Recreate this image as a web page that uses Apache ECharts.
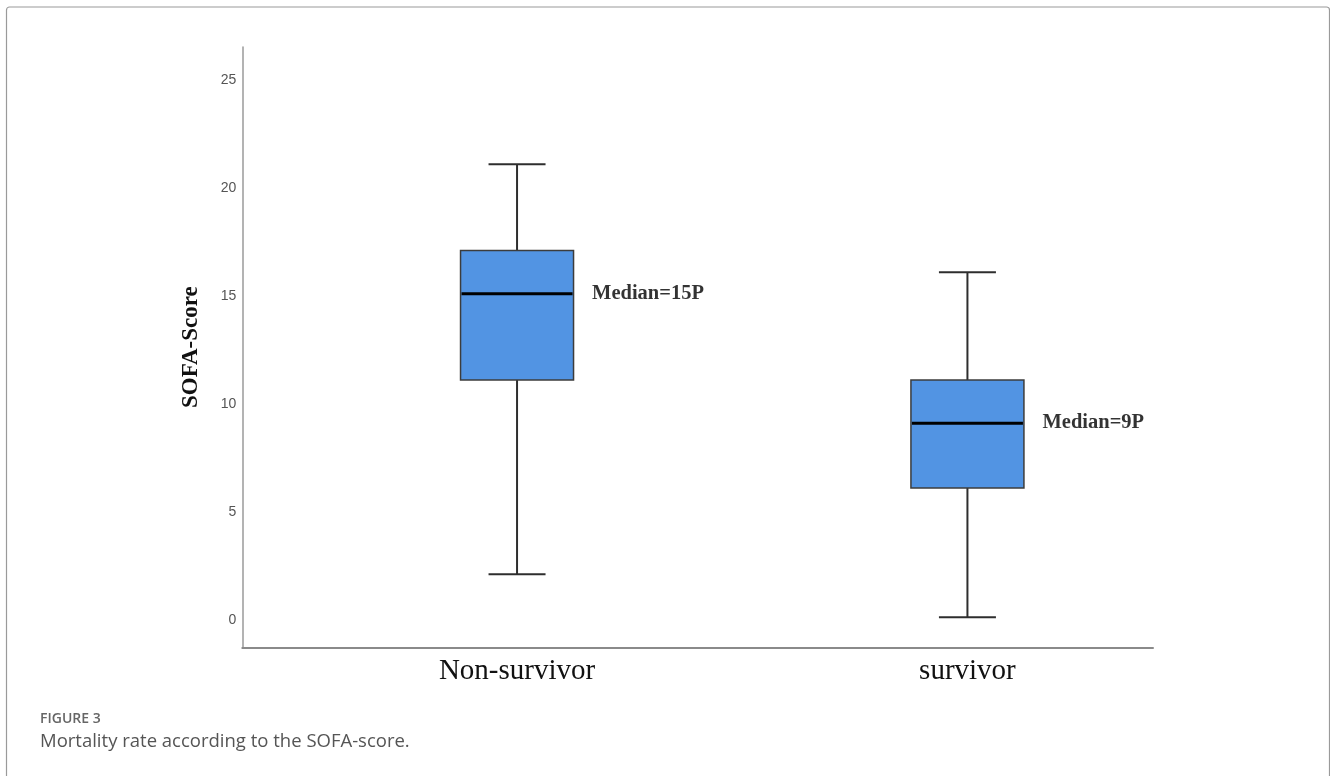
<!DOCTYPE html>
<html>
<head>
<meta charset="utf-8">
<script src="https://cdn.jsdelivr.net/npm/echarts@6/dist/echarts.min.js"></script>
<style>
html,body{margin:0;padding:0;background:#fff;}
#chart{width:1330px;height:776px;}
</style>
</head>
<body>
<div id="chart"></div>
<script>
// ---- data ----
const categories = ['Non-survivor', 'survivor'];
const whiskerMin = [2, 0];
const q1 = [11, 6];
const median = [15, 9];
const q3 = [17, 11];
const whiskerMax = [21, 16];
const medianLabels = ['Median=15P', 'Median=9P'];
const yTickLabels = [0, 5, 10, 15, 20, 25];
const categoryPositions = [0, 1];

// ---- build ----
const boxData = categories.map((c, i) => [categoryPositions[i], whiskerMin[i], q1[i], median[i], q3[i], whiskerMax[i]]);
const labelData = categories.map((c, i) => [categoryPositions[i], median[i]]);

const BOX_W = 113, CAP_W = 57;
const LINE_COL = '#2e2e2e';

function renderBox(params, api) {
  const x = api.value(0);
  const pMin = api.coord([x, api.value(1)]);
  const pQ1 = api.coord([x, api.value(2)]);
  const pMed = api.coord([x, api.value(3)]);
  const pQ3 = api.coord([x, api.value(4)]);
  const pMax = api.coord([x, api.value(5)]);
  const cx = pMed[0];
  const lineStyle = { stroke: LINE_COL, lineWidth: 2 };
  return {
    type: 'group',
    children: [
      { type: 'line', shape: { x1: cx, y1: pQ3[1], x2: cx, y2: pMax[1] }, style: lineStyle },
      { type: 'line', shape: { x1: cx, y1: pQ1[1], x2: cx, y2: pMin[1] }, style: lineStyle },
      { type: 'line', shape: { x1: cx - CAP_W / 2, y1: pMax[1], x2: cx + CAP_W / 2, y2: pMax[1] }, style: lineStyle },
      { type: 'line', shape: { x1: cx - CAP_W / 2, y1: pMin[1], x2: cx + CAP_W / 2, y2: pMin[1] }, style: lineStyle },
      { type: 'rect', shape: { x: cx - BOX_W / 2, y: pQ3[1], width: BOX_W, height: pQ1[1] - pQ3[1] },
        style: { fill: '#5294e3', stroke: '#3c3c3c', lineWidth: 1.5 } },
      { type: 'line', shape: { x1: cx - BOX_W / 2 + 1, y1: pMed[1], x2: cx + BOX_W / 2 - 1, y2: pMed[1] },
        style: { stroke: '#000', lineWidth: 3 } }
    ]
  };
}

const chart = echarts.init(document.getElementById('chart'), null, { renderer: 'canvas' });
chart.setOption({
  backgroundColor: '#fff',
  animation: false,
  title: [
    { text: 'FIGURE 3', left: 40, top: 712, padding: 0,
      textStyle: { fontFamily: 'Open Sans', fontSize: 14, fontWeight: 600, color: '#666' } },
    { text: 'Mortality rate according to the SOFA-score.', left: 40, top: 732, padding: 0,
      textStyle: { fontFamily: 'Open Sans', fontSize: 18.5, fontWeight: 'normal', color: '#555' } }
  ],
  graphic: [
    { type: 'rect', silent: true, shape: { x: 6.5, y: 7, width: 1323, height: 820, r: 3 },
      style: { fill: 'none', stroke: '#9a9a9a', lineWidth: 1.2 } }
  ],
  grid: { left: 242.3, right: 177, top: 47, bottom: 128.7, containLabel: false, outerBoundsMode: 'none' },
  xAxis: {
    type: 'value', min: -0.61, max: 1.412,
    splitLine: { show: false },
    axisTick: { show: false },
    axisLine: { show: true, onZero: false, lineStyle: { color: '#8a8a8a', width: 2 } },
    axisLabel: {
      customValues: categoryPositions,
      formatter: v => categories[Math.round(v)],
      fontFamily: 'Liberation Serif', fontSize: 29, color: '#111', margin: 10
    }
  },
  yAxis: {
    type: 'value', min: -1.39, max: 26.44,
    splitLine: { show: false },
    axisTick: { show: false },
    axisLine: { show: true, onZero: false, lineStyle: { color: '#9a9a9a', width: 1.5 } },
    axisLabel: {
      customValues: yTickLabels,
      fontFamily: 'Liberation Sans', fontSize: 14, color: '#555', margin: 6,
      verticalAlign: 'top', lineHeight: 5
    },
    name: 'SOFA-Score',
    nameLocation: 'middle',
    nameRotate: 90,
    nameGap: 40,
    nameTextStyle: { fontFamily: 'Liberation Serif', fontWeight: 'bold', fontSize: 23, color: '#111' }
  },
  series: [
    {
      type: 'custom',
      renderItem: renderBox,
      encode: { x: 0, y: [1, 2, 3, 4, 5] },
      data: boxData,
      z: 2
    },
    {
      type: 'scatter',
      data: labelData,
      symbolSize: 0.001,
      silent: true,
      z: 3,
      label: {
        show: true,
        position: 'right',
        distance: 75,
        formatter: p => medianLabels[p.dataIndex],
        fontFamily: 'Liberation Serif', fontWeight: 'bold', fontSize: 20.5, color: '#000'
      }
    }
  ]
});
</script>
</body>
</html>
